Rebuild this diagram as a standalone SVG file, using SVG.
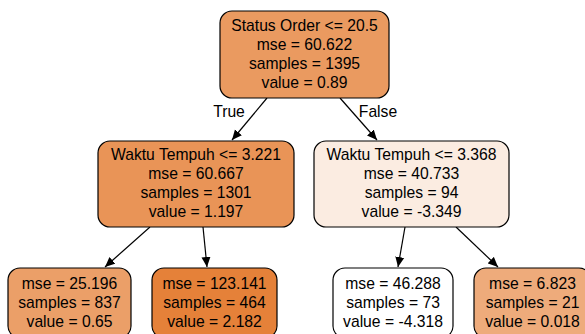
<svg xmlns="http://www.w3.org/2000/svg" width="585" height="334" viewBox="0 0 585 334">
<defs>
<marker id="ah" viewBox="0 0 10 10" refX="10" refY="5" markerWidth="10" markerHeight="10" markerUnits="userSpaceOnUse" orient="auto">
<path d="M0,0.5 L10,5 L0,9.5 Z" fill="#000"/>
</marker>
<style>
.n rect{stroke:#000;stroke-width:1.2}
text{font-family:"Liberation Sans",Arial,Helvetica,sans-serif;font-size:15.7px;fill:#000;text-anchor:middle}
.e line{stroke:#000;stroke-width:1.2;marker-end:url(#ah)}
</style>
</defs>
<rect width="585" height="334" fill="#fff"/>
<g class="e" id="connectors">
<line x1="267" y1="98" x2="232" y2="140"/>
<line x1="340" y1="98" x2="377" y2="140"/>
<line x1="150" y1="227" x2="105" y2="267"/>
<line x1="203" y1="227" x2="207" y2="267"/>
<line x1="405" y1="227" x2="398" y2="267"/>
<line x1="456" y1="227" x2="498" y2="267"/>
<text x="229" y="116.5">True</text>
<text x="378" y="116.5">False</text>
</g>
<g class="n" id="node0">
<rect x="220" y="11" width="169" height="87" rx="12" fill="#ea9a60"/>
<text x="304.5" y="30.5">Status Order &lt;= 20.5</text>
<text x="304.5" y="49.5">mse = 60.622</text>
<text x="304.5" y="68.5">samples = 1395</text>
<text x="304.5" y="87.5">value = 0.89</text>
</g>
<g class="n" id="node1">
<rect x="98" y="141" width="196" height="86" rx="12" fill="#e99457"/>
<text x="196" y="159.5">Waktu Tempuh &lt;= 3.221</text>
<text x="196" y="178.5">mse = 60.667</text>
<text x="196" y="197.5">samples = 1301</text>
<text x="196" y="216.5">value = 1.197</text>
</g>
<g class="n" id="node4">
<rect x="314" y="141" width="195" height="86" rx="12" fill="#fbece1"/>
<text x="411.5" y="159.5">Waktu Tempuh &lt;= 3.368</text>
<text x="411.5" y="178.5">mse = 40.733</text>
<text x="411.5" y="197.5">samples = 94</text>
<text x="411.5" y="216.5">value = -3.349</text>
</g>
<g class="n" id="node2">
<rect x="8" y="268" width="123" height="70" rx="12" fill="#eb9f68"/>
<text x="69.5" y="288.5">mse = 25.196</text>
<text x="69.5" y="307.5">samples = 837</text>
<text x="69.5" y="326.5">value = 0.65</text>
</g>
<g class="n" id="node3">
<rect x="152" y="268" width="125" height="70" rx="12" fill="#e58139"/>
<text x="214.5" y="288.5">mse = 123.141</text>
<text x="214.5" y="307.5">samples = 464</text>
<text x="214.5" y="326.5">value = 2.182</text>
</g>
<g class="n" id="node5">
<rect x="333" y="268" width="120" height="70" rx="12" fill="#ffffff"/>
<text x="393" y="288.5">mse = 46.288</text>
<text x="393" y="307.5">samples = 73</text>
<text x="393" y="326.5">value = -4.318</text>
</g>
<g class="n" id="node6">
<rect x="474" y="268" width="117" height="70" rx="12" fill="#eeab7b"/>
<text x="532.5" y="288.5">mse = 6.823</text>
<text x="532.5" y="307.5">samples = 21</text>
<text x="532.5" y="326.5">value = 0.018</text>
</g>
</svg>
